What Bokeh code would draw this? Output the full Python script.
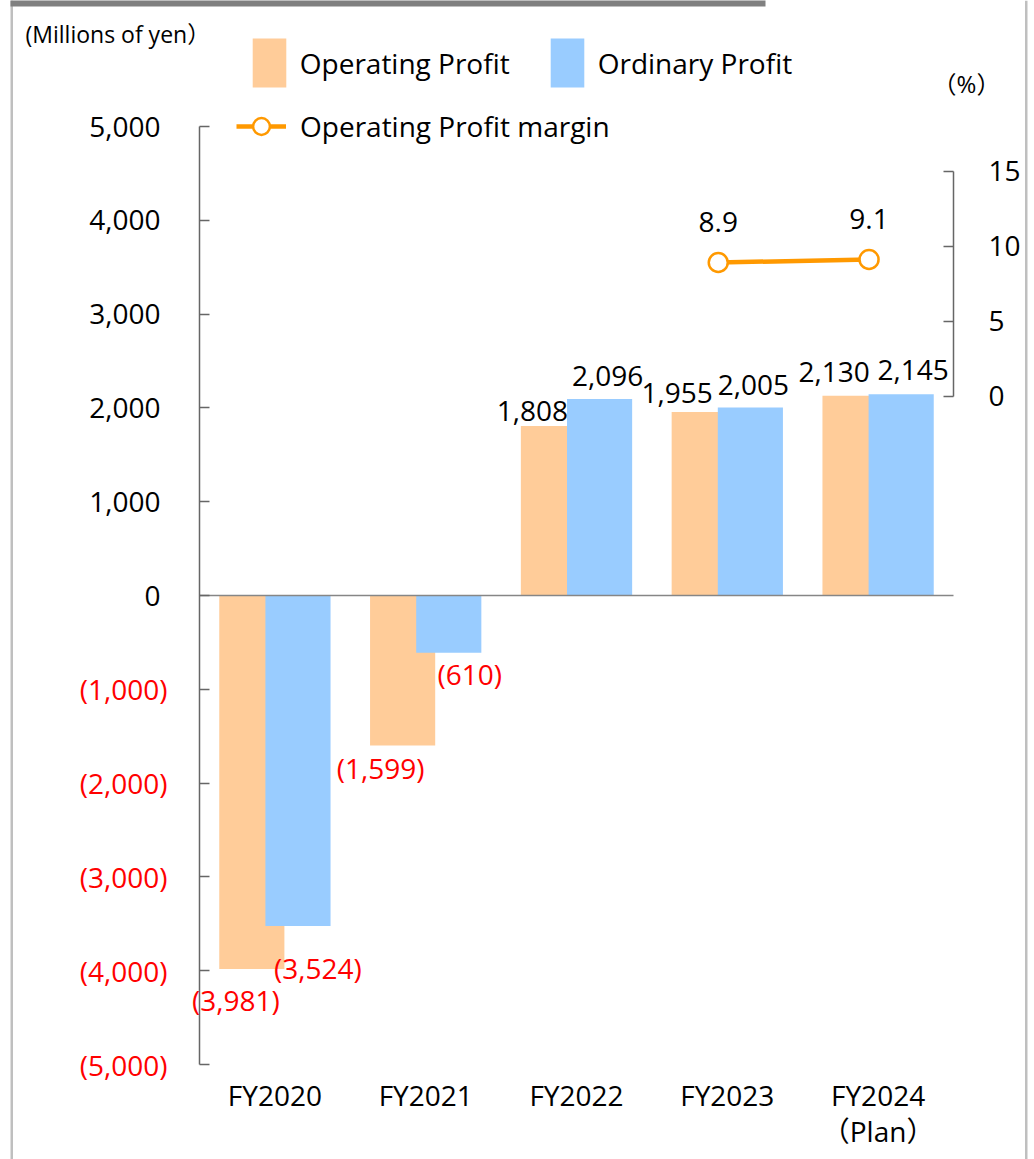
from bokeh.plotting import figure
from bokeh.models import (Range1d, LinearAxis, FixedTicker, Legend, LegendItem,
                          ColumnDataSource, LabelSet, Label, BoxAnnotation)
from bokeh.embed import file_html
from bokeh.resources import INLINE
from bokeh.core.properties import value

# ---------------- data ----------------
categories = ["FY2020", "FY2021", "FY2022", "FY2023", "FY2024"]
category_labels = ["FY2020", "FY2021", "FY2022", "FY2023", "FY2024\n（Plan）"]
operating_profit = [-3981, -1599, 1808, 1955, 2130]
ordinary_profit = [-3524, -610, 2096, 2005, 2145]
op_margin = [None, None, None, 8.9, 9.1]
left_ticks = [-5000, -4000, -3000, -2000, -1000, 0, 1000, 2000, 3000, 4000, 5000]
right_ticks = [0, 5, 10, 15]

# label nudges (screen px: dx right, dy up)
op_label_dx = [-16, -22, -21, -27, -21]
op_label_dy = [-31, -23, 15, 19, 24]
ord_label_dx = [20, 21, 8, 3, 12]
ord_label_dy = [-42, -21, 23, 22, 24]
margin_label_dy = 41

FONT = "'Open Sans', 'Noto Sans CJK JP', sans-serif"
ORANGE = "#FFCC99"
BLUE = "#99CCFF"
LINE = "#FF9900"
RED = "#FF0000"
AXIS = "#666666"

# ---------------- geometry (canvas px) ----------------
W, H = 1034, 1159
X0_PX = 199.0          # left edge of category band
CAT_PX = 150.8         # width of one category
ZERO_PX = 595.0        # y of 0 on left axis
PX_PER_UNIT = 938 / 10000.0
PCT_ZERO = 395.5
PCT_PX = 15.0
N = len(categories)


def xd(px):
    return (px - X0_PX) / CAT_PX


def yd(py):
    return (ZERO_PX - py) / PX_PER_UNIT


def pd(py):
    return (PCT_ZERO - py) / PCT_PX


p = figure(width=W, height=H,
           x_range=Range1d(xd(0), xd(W)), y_range=Range1d(yd(H), yd(0)),
           output_backend="svg", toolbar_location=None,
           x_axis_location=None, y_axis_location=None,
           min_border=0, min_border_left=0, min_border_right=0,
           min_border_top=0, min_border_bottom=0)
p.outline_line_color = None
p.grid.visible = False
p.background_fill_color = "white"
p.border_fill_color = "white"
p.extra_y_ranges = {"pct": Range1d(pd(H), pd(0))}

centers = [i + 0.5 for i in range(N)]
off = 0.153
bw = 0.432
src = ColumnDataSource(dict(
    x_op=[c - off for c in centers], x_ord=[c + off for c in centers],
    op=operating_profit, ord=ordinary_profit))

r_op = p.vbar(x="x_op", top="op", bottom=0, width=bw, source=src,
              fill_color=ORANGE, line_color=None)
r_ord = p.vbar(x="x_ord", top="ord", bottom=0, width=bw, source=src,
               fill_color=BLUE, line_color=None)

# zero (category) line across the plot band
p.segment(x0=[0], y0=[0], x1=[N], y1=[0], line_color="#868686", line_width=1.5)

# margin line
line_dx = -0.06
mx = [centers[i] + line_dx for i in range(N) if op_margin[i] is not None]
my = [v for v in op_margin if v is not None]
msrc = ColumnDataSource(dict(x=mx, y=my, t=[f"{v:.1f}" for v in my]))
r_line = p.line("x", "y", source=msrc, y_range_name="pct", line_color=LINE, line_width=4.5)
r_mk = p.scatter("x", "y", source=msrc, y_range_name="pct", size=19, marker="circle",
                 fill_color="white", line_color=LINE, line_width=2.5)
p.text("x", "y", text="t", source=msrc, y_range_name="pct", y_offset=-margin_label_dy,
       text_align="center", text_baseline="middle", text_font=value(FONT),
       text_font_size="28px", text_color="black")


def fmt(v):
    return f"({abs(v):,})" if v < 0 else f"{v:,}"


lab = ColumnDataSource(dict(
    x=[c - off for c in centers] + [c + off for c in centers],
    y=operating_profit + ordinary_profit,
    t=[fmt(v) for v in operating_profit + ordinary_profit],
    c=[RED if v < 0 else "black" for v in operating_profit + ordinary_profit],
    dx=op_label_dx + ord_label_dx,
    dy=[-d for d in op_label_dy + ord_label_dy],
))
p.text("x", "y", text="t", source=lab, x_offset="dx", y_offset="dy",
       text_color="c", text_align="center", text_baseline="middle",
       text_font=value(FONT), text_font_size="28px")

# left axis (labels drawn as a LabelSet so negatives can be red)
lax = LinearAxis(fixed_location=0, bounds=(-5000, 5000),
                 ticker=FixedTicker(ticks=left_ticks, minor_ticks=[]))
lax.major_label_overrides = {t: "" for t in left_ticks}
lax.major_tick_in = 10
lax.major_tick_out = 0
lax.minor_tick_line_color = None
lax.axis_line_color = AXIS
lax.major_tick_line_color = AXIS
lax.axis_line_width = 1.5
lax.major_tick_line_width = 1.5
p.add_layout(lax, "left")

tl = ColumnDataSource(dict(
    x=[xd(167) if t < 0 else xd(160) for t in left_ticks],
    y=left_ticks,
    t=[fmt(t) for t in left_ticks],
    c=[RED if t < 0 else "black" for t in left_ticks]))
p.add_layout(LabelSet(x="x", y="y", text="t", source=tl, text_color="c",
                      text_align="right", text_baseline="middle",
                      text_font=value(FONT), text_font_size="28px"))

# right axis
rax = LinearAxis(y_range_name="pct", fixed_location=xd(953), bounds=(0, 15),
                 ticker=FixedTicker(ticks=right_ticks, minor_ticks=[]))
rax.major_tick_in = 10
rax.major_tick_out = 0
rax.minor_tick_line_color = None
rax.axis_line_color = AXIS
rax.major_tick_line_color = AXIS
rax.axis_line_width = 1.5
rax.major_tick_line_width = 1.5
rax.major_label_standoff = 35
rax.major_label_text_font = FONT
rax.major_label_text_font_size = "28px"
rax.major_label_text_color = "black"
p.add_layout(rax, "right")

# category axis at the bottom of the value scale
xa = LinearAxis(fixed_location=-5000, ticker=FixedTicker(ticks=centers, minor_ticks=[]))
xa.major_label_overrides = {c: l for c, l in zip(centers, category_labels)}
xa.axis_line_color = None
xa.major_tick_line_color = None
xa.minor_tick_line_color = None
xa.major_label_standoff = 5
xa.major_label_text_font = FONT
xa.major_label_text_font_size = "28px"
xa.major_label_text_line_height = 0.96
xa.major_label_text_color = "black"
p.add_layout(xa, "below")

# legends
leg1 = Legend(items=[LegendItem(label="Operating Profit", renderers=[r_op]),
                     LegendItem(label="Ordinary Profit", renderers=[r_ord])],
              orientation="horizontal", location=(247.75, H - 93.1),
              glyph_width=42, glyph_height=61, label_standoff=10, spacing=36,
              padding=0, margin=0, border_line_color=None, background_fill_alpha=0,
              label_text_font=FONT, label_text_font_size="28px",
              label_text_color="black")
leg2 = Legend(items=[LegendItem(label="Operating Profit margin", renderers=[r_line, r_mk])],
              orientation="horizontal", location=(236, H - 147),
              glyph_width=50, glyph_height=42, label_standoff=14,
              padding=0, margin=0, border_line_color=None, background_fill_alpha=0,
              label_text_font=FONT, label_text_font_size="28px",
              label_text_color="black")
p.add_layout(leg1)
p.add_layout(leg2)

# unit captions
p.add_layout(Label(x=xd(25), y=yd(33), text="(Millions of yen）", text_align="left",
                   text_baseline="middle", text_font=FONT, text_font_size="23px",
                   text_color="black"))
p.add_layout(Label(x=xd(966), y=yd(83), text="（%）", text_align="center",
                   text_baseline="middle", text_font=FONT, text_font_size="24px",
                   text_color="black"))

# page frame decorations
p.add_layout(BoxAnnotation(left=xd(10), right=xd(12.5), bottom=yd(H + 5), top=yd(0),
                           fill_color="#BFBFBF", fill_alpha=1, line_color=None))
p.add_layout(BoxAnnotation(left=xd(1024.5), right=xd(1027), bottom=yd(H + 5), top=yd(0),
                           fill_color="#BFBFBF", fill_alpha=1, line_color=None))
p.add_layout(BoxAnnotation(left=xd(10), right=xd(765), bottom=yd(6), top=yd(-2),
                           fill_color="#808080", fill_alpha=1, line_color=None))

open("out.html", "w").write(file_html(p, INLINE))
